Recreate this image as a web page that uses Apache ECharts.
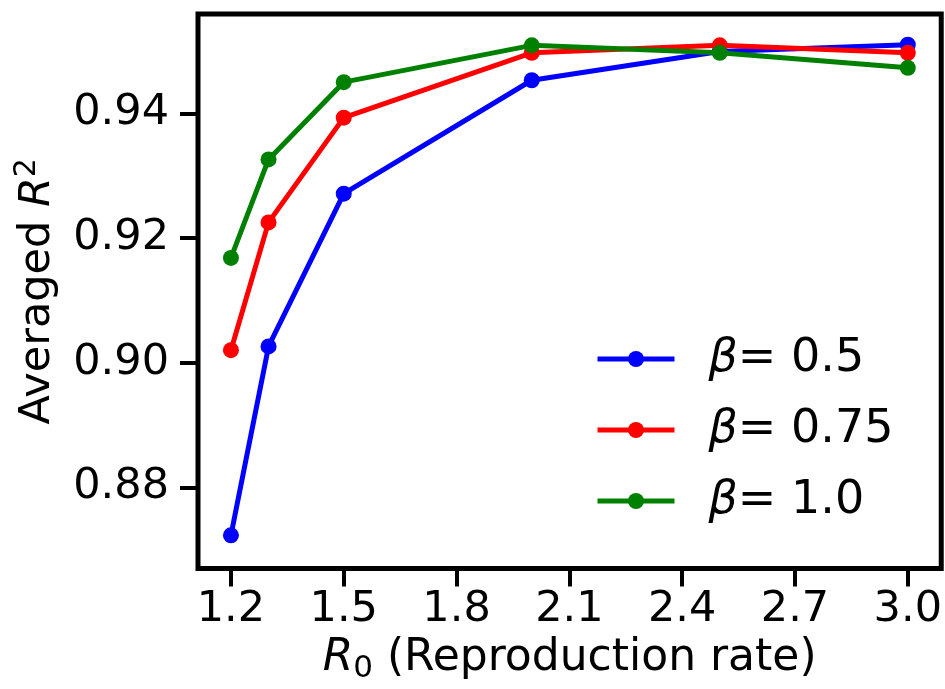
<!DOCTYPE html>
<html>
<head>
<meta charset="utf-8">
<script src="https://cdn.jsdelivr.net/npm/echarts@6/dist/echarts.min.js"></script>
<style>
html,body{margin:0;padding:0;background:#fff;}
#c{width:945px;height:689px;}
</style>
</head>
<body>
<div id="c"></div>
<script>
const xValues = [1.2, 1.3, 1.5, 2.0, 2.5, 3.0];
const beta05 = [0.8723, 0.9026, 0.9271, 0.9453, 0.9499, 0.9510];
const beta075 = [0.9020, 0.9225, 0.9393, 0.9497, 0.9509, 0.9497];
const beta10 = [0.9168, 0.9326, 0.9450, 0.9509, 0.9497, 0.9473];
const seriesNames = ['β= 0.5', 'β= 0.75', 'β= 1.0'];
const xTicks = [1.2, 1.5, 1.8, 2.1, 2.4, 2.7, 3.0];
const yTicks = [0.88, 0.90, 0.92, 0.94];

const FONT = 'DejaVu Sans';
const colors = ['#0000ff', '#ff0000', '#008000'];
const allData = [beta05, beta075, beta10];

const chart = echarts.init(document.getElementById('c'), null, {renderer: 'canvas'});

const series = allData.map((vals, i) => ({
  name: seriesNames[i],
  type: 'line',
  data: xValues.map((x, j) => [x, vals[j]]),
  symbol: 'circle',
  symbolSize: 16,
  showSymbol: true,
  color: colors[i],
  lineStyle: {width: 5, color: colors[i]},
  itemStyle: {color: colors[i]},
  emphasis: {disabled: true},
  clip: false,
  z: 3 + i
}));

chart.setOption({
  animation: false,
  backgroundColor: '#fff',
  grid: {
    left: 198, right: 2, top: 14, bottom: 120,
    show: true, borderWidth: 5, borderColor: '#000', backgroundColor: 'transparent',
    containLabel: false
  },
  xAxis: {
    type: 'value',
    min: 1.1124, max: 3.0889,
    splitLine: {show: false},
    axisLine: {show: false},
    axisTick: {show: true, length: 18, lineStyle: {width: 4, color: '#000'}, customValues: xTicks},
    axisLabel: {
      customValues: xTicks,
      margin: 20,
      fontFamily: FONT, fontSize: 43, color: '#000',
      formatter: v => v.toFixed(1)
    },
    name: '{i|R}{s|0} (Reproduction rate)',
    nameLocation: 'middle',
    nameGap: 60,
    nameTextStyle: {
      fontFamily: FONT, fontSize: 44, color: '#000',
      rich: {
        i: {fontFamily: FONT, fontSize: 44, fontStyle: 'italic', color: '#000'},
        s: {fontFamily: FONT, fontSize: 31, color: '#000', padding: [20, 0, 0, 0]}
      }
    }
  },
  yAxis: {
    type: 'value',
    min: 0.86696, max: 0.95593,
    splitLine: {show: false},
    axisLine: {show: false},
    axisTick: {show: true, length: 18, lineStyle: {width: 4, color: '#000'}, customValues: yTicks},
    axisLabel: {
      customValues: yTicks,
      margin: 29,
      fontFamily: FONT, fontSize: 43, color: '#000',
      formatter: v => v.toFixed(2)
    },
    name: 'Averaged {i|R}{s|2}',
    nameLocation: 'middle',
    nameGap: 134,
    nameRotate: 90,
    nameTextStyle: {
      fontFamily: FONT, fontSize: 43, color: '#000',
      rich: {
        i: {fontFamily: FONT, fontSize: 43, fontStyle: 'italic', color: '#000'},
        s: {fontFamily: FONT, fontSize: 30, color: '#000', padding: [0, 0, 22, 0]}
      }
    }
  },
  legend: {
    orient: 'vertical',
    left: 590,
    top: 331,
    itemWidth: 77,
    itemHeight: 20,
    itemGap: 25,
    selectedMode: false,
    data: seriesNames,
    lineStyle: {width: 5},
    formatter: name => name.replace('β', '{b|β}'),
    textStyle: {
      fontFamily: FONT, fontSize: 46, color: '#000',
      padding: [0, 0, 0, 29],
      rich: {
        b: {fontFamily: FONT, fontSize: 46, fontStyle: 'italic', color: '#000'}
      }
    }
  },
  series: series
});
</script>
</body>
</html>
